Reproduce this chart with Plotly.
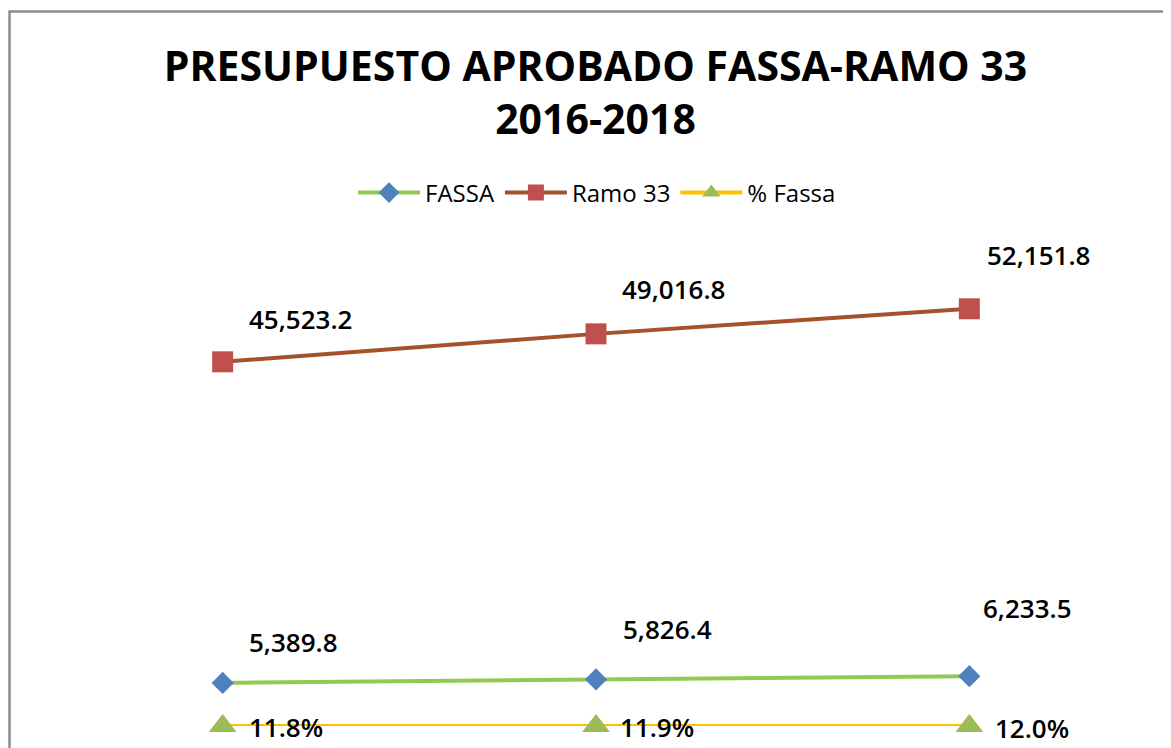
import plotly.graph_objects as go

years = ["2016", "2017", "2018"]
fassa = [5389.8, 5826.4, 6233.5]
ramo33 = [45523.2, 49016.8, 52151.8]
pct_fassa = [0.118, 0.119, 0.120]

# page has an 8px body margin, so the figure is sized/offset accordingly
W, H = 1163, 740
L, R, T, B = 28, 15, 238, 22
PW, PH = W - L - R, H - T - B

fig = go.Figure()
fig.add_trace(go.Scatter(
    x=years, y=fassa, name="FASSA", mode="lines+markers",
    line=dict(color="#92C955", width=4),
    marker=dict(symbol="diamond", size=17, color="#4F81BD"),
    cliponaxis=False))
fig.add_trace(go.Scatter(
    x=years, y=ramo33, name="Ramo 33", mode="lines+markers",
    line=dict(color="#A5512A", width=4),
    marker=dict(symbol="square", size=21, color="#C0504D"),
    cliponaxis=False))
fig.add_trace(go.Scatter(
    x=years, y=pct_fassa, name="% Fassa", mode="lines+markers",
    line=dict(color="#FFC000", width=4),
    marker=dict(symbol="triangle-up", size=24, color="#9BBB59"),
    cliponaxis=False))

lab_font = dict(family="Open Sans", size=26, color="#000000", weight=600)
ramo_off = [(78, 43), (77, 45), (69, 54)]
fassa_off = [(71, 41), (71, 50), (58, 68)]
pct_off = [(63, -1), (61, -1), (63, -2)]
anns = []
for i in range(len(years)):
    anns.append(dict(x=i, y=ramo33[i], xref="x", yref="y", text=f"{ramo33[i]:,.1f}",
                     showarrow=False, xshift=ramo_off[i][0], yshift=ramo_off[i][1], font=lab_font))
    anns.append(dict(x=i, y=fassa[i], xref="x", yref="y", text=f"{fassa[i]:,.1f}",
                     showarrow=False, xshift=fassa_off[i][0], yshift=fassa_off[i][1], font=lab_font))
    anns.append(dict(x=i, y=pct_fassa[i], xref="x", yref="y", text=f"{pct_fassa[i]*100:.1f}%",
                     showarrow=False, xshift=pct_off[i][0], yshift=pct_off[i][1], font=lab_font))

def px_x(p):
    return (p - L) / PW

def px_y(p):
    return (H - B - p) / PH

fig.add_shape(type="rect", xref="paper", yref="paper",
              x0=px_x(1.5), x1=px_x(1190), y0=px_y(770), y1=px_y(3.5),
              line=dict(color="#8C8C8C", width=2.5), fillcolor="rgba(0,0,0,0)")

fig.update_layout(
    width=W, height=H,
    margin=dict(l=L, r=R, t=T, b=B),
    paper_bgcolor="white", plot_bgcolor="white",
    title=dict(text="<b>PRESUPUESTO APROBADO FASSA-RAMO 33<br>2016-2018</b>",
               x=587.5 / W, xanchor="center", xref="container",
               y=1 - 73 / H, yanchor="top", yref="container",
               font=dict(family="Open Sans", size=41, color="#000000")),
    legend=dict(orientation="h", x=589 / W, xanchor="center", xref="container",
                y=1 - 185 / H, yanchor="middle", yref="container",
                font=dict(family="Open Sans", size=24, color="#000000"),
                itemwidth=62,
                bgcolor="rgba(0,0,0,0)"),
    xaxis=dict(type="category", range=[-0.5, 2.5], visible=False),
    yaxis=dict(range=[0, 60000], visible=False),
    annotations=anns,
    showlegend=True,
)

fig.write_html("out.html")
